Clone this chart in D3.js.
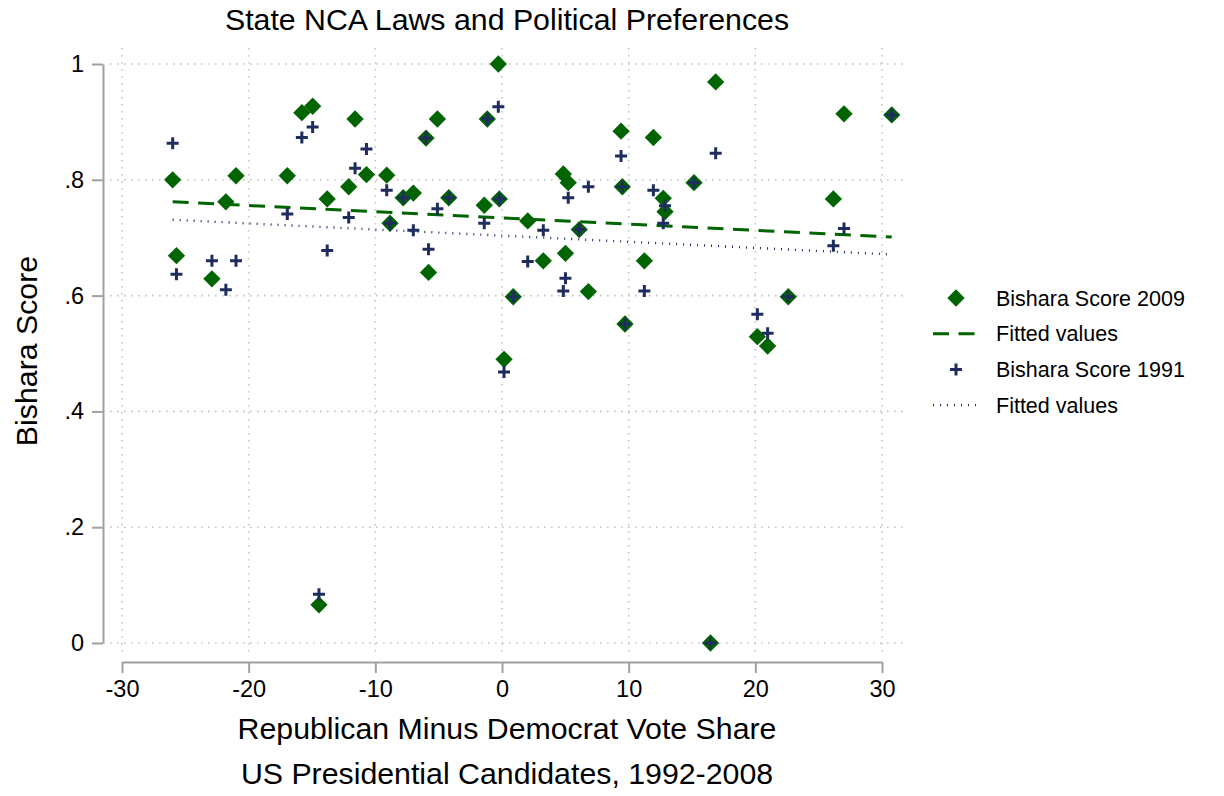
<!DOCTYPE html>
<html>
<head>
<meta charset="utf-8">
<script src="https://cdn.jsdelivr.net/npm/d3@7"></script>
<style>
  body { margin: 0; background: #fff; }
  text { font-family: "Liberation Sans", Arial, sans-serif; }
</style>
</head>
<body>
<div id="chart"></div>
<script>
// Republican minus Democrat vote share, one entry per state
const voteShare = [-26.0, -25.7, -22.9, -21.8, -21.0, -16.95, -15.8, -14.95, -14.45, -13.8,
  -12.1, -11.6, -10.7, -9.1, -8.84, -7.8, -7.0, -6.0, -5.8, -5.1,
  -4.2, -1.4, -1.16, -0.29, -0.21, 0.16, 0.89, 2.03, 3.26, 4.84,
  5.01, 5.23, 6.1, 6.82, 9.4, 9.5, 9.71, 11.24, 11.95, 12.73,
  12.87, 15.16, 16.46, 16.87, 20.16, 20.97, 22.6, 26.16, 27.0, 30.77];
const score2009 = [0.800, 0.669, 0.629, 0.762, 0.807, 0.807, 0.916, 0.927, 0.066, 0.767,
  0.788, 0.905, 0.809, 0.808, 0.725, 0.769, 0.777, 0.872, 0.640, 0.905,
  0.769, 0.756, 0.905, 1.000, 0.767, 0.490, 0.598, 0.729, 0.660, 0.810,
  0.673, 0.795, 0.714, 0.607, 0.884, 0.788, 0.551, 0.660, 0.873, 0.768,
  0.745, 0.795, 0.000, 0.969, 0.529, 0.513, 0.598, 0.767, 0.914, 0.912];
const score1991 = [0.863, 0.637, 0.660, 0.610, 0.660, 0.741, 0.873, 0.891, 0.084, 0.678,
  0.735, 0.820, 0.853, 0.782, 0.725, 0.769, 0.713, 0.872, 0.680, 0.750,
  0.769, 0.725, 0.905, 0.926, 0.767, 0.468, 0.598, 0.659, 0.713, 0.608,
  0.630, 0.769, 0.714, 0.788, 0.841, 0.788, 0.551, 0.608, 0.782, 0.725,
  0.755, 0.795, 0.000, 0.846, 0.568, 0.535, 0.598, 0.686, 0.716, 0.912];

const fitX = [-26.0, 30.77];
const fit2009 = [0.762, 0.701];
const fit1991 = [0.731, 0.671];

const xTicks = [-30, -20, -10, 0, 10, 20, 30];
const xTickLabels = ["-30", "-20", "-10", "0", "10", "20", "30"];
const yTicks = [0, 0.2, 0.4, 0.6, 0.8, 1];
const yTickLabels = ["0", ".2", ".4", ".6", ".8", "1"];
const legendLabels = ["Bishara Score 2009", "Fitted values", "Bishara Score 1991", "Fitted values"];

const width = 1224, height = 796;
const green = "#006400", navy = "#1f2d5e", axisGray = "#a0a0a0";

const svg = d3.select("#chart").append("svg")
  .attr("width", width)
  .attr("height", height);

svg.append("rect").attr("width", width).attr("height", height).attr("fill", "#fff");

const x = d3.scaleLinear().domain([-30, 30]).range([122, 882]);
const y = d3.scaleLinear().domain([0, 1]).range([643, 64]);

// grid
const grid = svg.append("g")
  .attr("stroke", "#c4c4c4")
  .attr("stroke-width", 1.6)
  .attr("stroke-dasharray", "1.6 5.4");
grid.selectAll(".gy").data(yTicks).join("line")
  .attr("x1", 110).attr("x2", 905)
  .attr("y1", d => y(d)).attr("y2", d => y(d));
grid.selectAll(".gx").data(xTicks).join("line")
  .attr("y1", 48).attr("y2", 656)
  .attr("x1", d => x(d)).attr("x2", d => x(d));

// axes
function yAxis(g) {
  g.attr("transform", "translate(103,0)")
    .call(d3.axisLeft(y).tickValues(yTicks).tickFormat((d, i) => yTickLabels[i])
      .tickSize(11).tickSizeOuter(0).tickPadding(8))
    .attr("font-size", "23.5px")
    .attr("font-family", null);
  g.selectAll("path, line").attr("stroke", axisGray).attr("stroke-width", 2);
  g.selectAll("text").attr("fill", "#000");
}
function xAxis(g) {
  g.attr("transform", "translate(0,662)")
    .call(d3.axisBottom(x).tickValues(xTicks).tickFormat((d, i) => xTickLabels[i])
      .tickSize(11).tickSizeOuter(0).tickPadding(7))
    .attr("font-size", "23.5px")
    .attr("font-family", null);
  g.selectAll("path, line").attr("stroke", axisGray).attr("stroke-width", 2);
  g.selectAll("text").attr("fill", "#000");
}
svg.append("g").call(yAxis);
svg.append("g").call(xAxis);

const states = voteShare.map((v, i) => ({ v, s09: score2009[i], s91: score1991[i] }));
const diamond = d3.symbol(d3.symbolSquare, 150);
const plusPath = "M-6,0H6M0,-6V6";
const line = d3.line().x(d => x(d[0])).y(d => y(d[1]));

// 2009 scores
svg.append("g").selectAll("path").data(states).join("path")
  .attr("d", diamond)
  .attr("transform", d => `translate(${x(d.v)},${y(d.s09)}) rotate(45)`)
  .attr("fill", green);

svg.append("path")
  .datum(fitX.map((v, i) => [v, fit2009[i]]))
  .attr("d", line)
  .attr("fill", "none").attr("stroke", green)
  .attr("stroke-width", 3).attr("stroke-dasharray", "16 9.5");

// 1991 scores
svg.append("g").selectAll("path").data(states).join("path")
  .attr("d", plusPath)
  .attr("transform", d => `translate(${x(d.v)},${y(d.s91)})`)
  .attr("fill", "none").attr("stroke", navy).attr("stroke-width", 3);

svg.append("path")
  .datum(fitX.map((v, i) => [v, fit1991[i]]))
  .attr("d", line)
  .attr("fill", "none").attr("stroke", navy)
  .attr("stroke-width", 2.4).attr("stroke-dasharray", "1 6");

// titles
svg.append("text").attr("x", 507).attr("y", 30).attr("text-anchor", "middle")
  .attr("font-size", "30.3px").text("State NCA Laws and Political Preferences");
svg.append("text").attr("x", 507).attr("y", 739).attr("text-anchor", "middle")
  .attr("font-size", "30.3px").text("Republican Minus Democrat Vote Share");
svg.append("text").attr("x", 507).attr("y", 784).attr("text-anchor", "middle")
  .attr("font-size", "30.3px").text("US Presidential Candidates, 1992-2008");
svg.append("text").attr("transform", "translate(37,351) rotate(-90)")
  .attr("text-anchor", "middle").attr("font-size", "30.3px").text("Bishara Score");

// legend
const legend = svg.append("g").attr("transform", "translate(933,298)");
const rows = legend.selectAll("g").data(legendLabels).join("g")
  .attr("transform", (d, i) => `translate(0,${i * 35.7})`);
rows.append("text").attr("x", 63).attr("dy", "0.36em")
  .attr("font-size", "21.5px").text(d => d);
rows.filter((d, i) => i === 0).append("path")
  .attr("d", diamond).attr("transform", "translate(23,0) rotate(45)").attr("fill", green);
rows.filter((d, i) => i === 1).append("line")
  .attr("x1", 0).attr("x2", 46).attr("stroke", green)
  .attr("stroke-width", 3).attr("stroke-dasharray", "16 9.5");
rows.filter((d, i) => i === 2).append("path")
  .attr("d", plusPath).attr("transform", "translate(23,0)")
  .attr("fill", "none").attr("stroke", navy).attr("stroke-width", 3);
rows.filter((d, i) => i === 3).append("line")
  .attr("x1", 0).attr("x2", 46).attr("stroke", navy)
  .attr("stroke-width", 2.4).attr("stroke-dasharray", "1 6");
</script>
</body>
</html>
